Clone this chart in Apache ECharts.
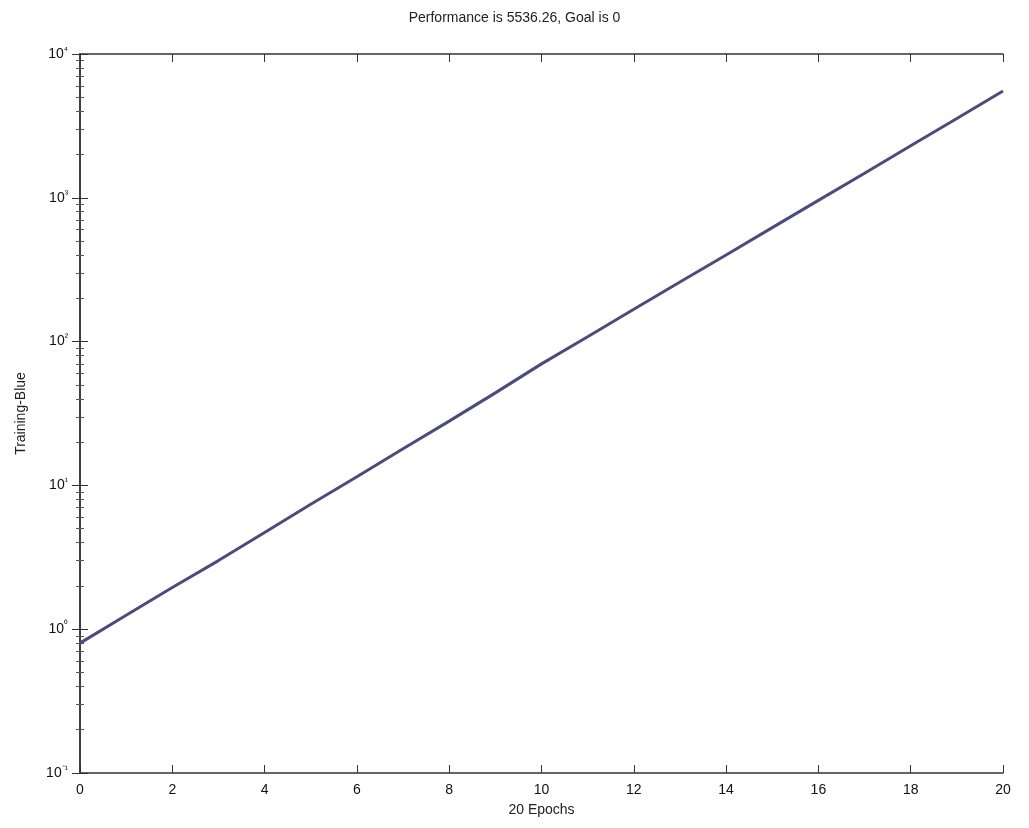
<!DOCTYPE html>
<html>
<head>
<meta charset="utf-8">
<script src="https://cdn.jsdelivr.net/npm/echarts@6/dist/echarts.min.js"></script>
<style>
  html, body { margin: 0; padding: 0; background: #fff; }
  #chart { width: 1029px; height: 828px; }
</style>
</head>
<body>
<div id="chart"></div>
<script>
// training curve (log scale)
const epochs = [0, 1, 2, 3, 4, 5, 6, 7, 8, 9, 10, 11, 12, 13, 14, 15, 16, 17, 18, 19, 20];
const performance = [0.8, 1.25, 1.95, 3.0, 4.7, 7.4, 11.5, 18, 28, 44, 70, 108, 168, 260, 400, 620, 960, 1480, 2300, 3560, 5536.26];
const titleText = "Performance is 5536.26, Goal is 0";
const xName = "20 Epochs";
const yName = "Training-Blue";

const supMap = { "-": "\u207B", "0": "\u2070", "1": "\u00B9", "2": "\u00B2", "3": "\u00B3", "4": "\u2074" };
const logLabel = (v) => {
    const e = Math.round(Math.log10(v));
    return "{b|10}{s|" + String(e).split("").map(c => supMap[c] || c).join("") + "}";
};

const font = "Liberation Sans, Arial, sans-serif";
const richLabel = {
    b: { fontSize: 14, fontFamily: font, color: "#111" },
    s: { fontSize: 10, fontFamily: font, color: "#111", verticalAlign: "top", padding: [0, 0, 8, 0] }
};

const chart = echarts.init(document.getElementById("chart"));
chart.setOption({
    animation: false,
    backgroundColor: "#fff",
    title: {
        text: titleText,
        left: "center",
        top: 6,
        textStyle: { fontSize: 14, fontWeight: "normal", fontFamily: font, color: "#222" }
    },
    grid: { left: 80, right: 26, top: 54, bottom: 55 },
    xAxis: [
        {
            type: "value",
            min: 0,
            max: 20,
            interval: 2,
            name: xName,
            nameLocation: "middle",
            nameGap: 30,
            nameTextStyle: { fontSize: 14, fontFamily: font, color: "#222" },
            axisLine: { lineStyle: { color: "#333", width: 1.5 } },
            axisTick: { inside: true, length: 8, lineStyle: { color: "#333" } },
            axisLabel: { fontSize: 14, fontFamily: font, color: "#111", margin: 10 },
            splitLine: { show: false }
        },
        {
            type: "value",
            position: "top",
            min: 0,
            max: 20,
            interval: 2,
            axisLine: { show: true, lineStyle: { color: "#333", width: 1.5 } },
            axisTick: { inside: true, length: 8, lineStyle: { color: "#333" } },
            axisLabel: { show: false },
            splitLine: { show: false }
        }
    ],
    yAxis: [
        {
            type: "log",
            logBase: 10,
            min: 0.1,
            max: 10000,
            name: yName,
            nameLocation: "middle",
            nameGap: 52,
            nameTextStyle: { fontSize: 14, fontFamily: font, color: "#222" },
            axisLine: { show: true, lineStyle: { color: "#333", width: 1.5 } },
            axisTick: { inside: true, length: 8, lineStyle: { color: "#333" } },
            minorTick: { show: true, splitNumber: 9, length: 4, lineStyle: { color: "#555" } },
            axisLabel: { formatter: logLabel, rich: richLabel, margin: 12 },
            splitLine: { show: false }
        },
        {
            type: "log",
            logBase: 10,
            min: 0.1,
            max: 10000,
            position: "right",
            axisLine: { show: true, lineStyle: { color: "#333", width: 1.5 } },
            axisTick: { inside: true, length: 8, lineStyle: { color: "#333" } },
            minorTick: { show: true, splitNumber: 9, length: 4, lineStyle: { color: "#555" } },
            axisLabel: { show: false },
            splitLine: { show: false }
        }
    ],
    series: [
        {
            type: "line",
            data: epochs.map((e, i) => [e, performance[i]]),
            showSymbol: false,
            lineStyle: { color: "#4a4c7e", width: 3 }
        }
    ]
});
</script>
</body>
</html>
